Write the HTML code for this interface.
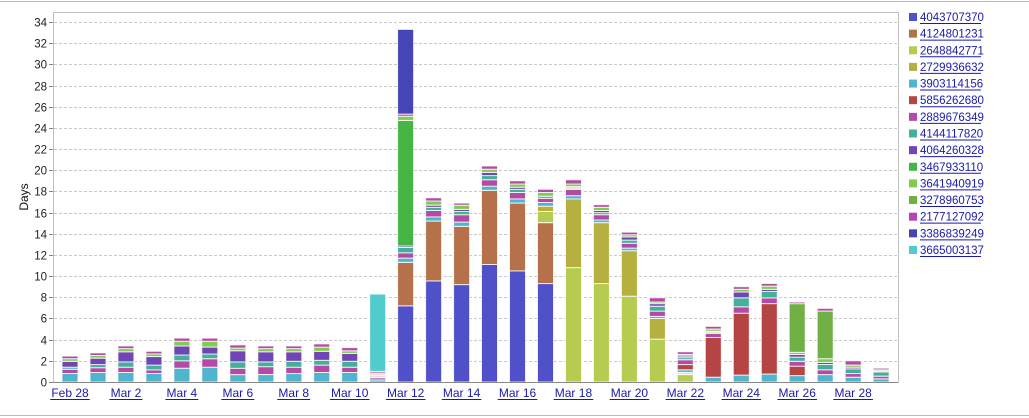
<!DOCTYPE html>
<html><head><meta charset="utf-8"><style>
body{margin:0;background:#fff;width:1029px;height:418px;overflow:hidden}
svg{display:block;font-family:"Liberation Sans",Arial,sans-serif}
</style></head><body>
<svg id="s" width="1029" height="418" xmlns="http://www.w3.org/2000/svg"></svg>
<script>
const C={A:'#5050c8',B:'#b5714a',C:'#b5cc50',D:'#b5b040',E:'#50b4cc',F:'#b54545',G:'#b54aa5',H:'#45b09a',I:'#7045b5',J:'#45b545',K:'#80cc50',L:'#70b045',M:'#b545b5',N:'#4545b5',O:'#50cccc',W:'#dde8c8',X:'#e0c8e0'};
// cumulative tops
const bars=[
[['E',.8],['G',1.2],['E',1.4],['I',1.95],['K',2.2],['G',2.45]],
[['E',.9],['G',1.35],['H',1.65],['I',2.25],['K',2.5],['G',2.75]],
[['E',.9],['G',1.4],['H',1.9],['I',2.85],['K',3.15],['G',3.4]],
[['E',.8],['G',1.15],['H',1.6],['I',2.4],['K',2.65],['G',2.9]],
[['E',1.3],['G',2.0],['H',2.55],['I',3.4],['K',3.85],['G',4.15]],
[['E',1.4],['G',2.2],['H',2.65],['I',3.3],['K',3.85],['G',4.15]],
[['E',.7],['G',1.3],['H',1.9],['I',2.95],['K',3.2],['G',3.5]],
[['E',.7],['G',1.45],['H',1.9],['I',2.85],['K',3.15],['G',3.4]],
[['E',.8],['G',1.4],['H',1.95],['I',2.85],['K',3.15],['G',3.4]],
[['E',.9],['G',1.6],['H',2.05],['I',2.9],['K',3.3],['G',3.6]],
[['E',.9],['G',1.4],['H',1.95],['I',2.7],['K',2.95],['G',3.25]],
[['E',.2],['M',.4],['W',.65],['X',.85],['G',1.0],['O',8.3]],
[['A',7.2],['B',11.3],['E',11.7],['G',12.2],['H',12.7],['I',12.85],['J',24.7],['K',25.1],['G',25.3],['N',33.3]],
[['A',9.55],['B',15.2],['E',15.6],['G',16.2],['H',16.5],['I',16.7],['K',17.1],['G',17.4]],
[['A',9.2],['B',14.7],['E',15.1],['G',15.8],['H',16.1],['I',16.3],['K',16.7],['G',16.9]],
[['A',11.1],['B',18.1],['E',18.5],['G',19.1],['H',19.5],['I',19.8],['K',20.1],['G',20.4]],
[['A',10.5],['B',16.9],['E',17.3],['G',17.9],['H',18.2],['I',18.4],['K',18.7],['G',19.0]],
[['A',9.3],['B',15.05],['C',16.1],['D',16.6],['E',16.95],['G',17.35],['H',17.55],['K',17.9],['G',18.2]],
[['D',10.8],['D',17.3],['E',17.6],['G',18.2],['W',18.45],['K',18.7],['G',19.1]],
[['C',9.3],['D',15.05],['E',15.3],['G',15.8],['H',16.0],['I',16.2],['K',16.5],['G',16.75]],
[['C',8.1],['D',12.4],['E',12.65],['G',13.1],['H',13.4],['I',13.7],['K',13.9],['G',14.15]],
[['C',4.05],['D',6.0],['E',6.2],['G',6.7],['H',7.15],['I',7.4],['K',7.55],['G',7.95]],
[['C',.7],['W',.9],['E',1.15],['F',1.65],['G',2.1],['H',2.3],['I',2.45],['K',2.6],['G',2.85]],
[['E',.45],['F',4.2],['G',4.6],['W',4.8],['K',5.0],['G',5.25]],
[['E',.65],['F',6.5],['G',7.1],['H',7.95],['I',8.5],['K',8.75],['G',9.0]],
[['E',.75],['F',7.4],['G',7.95],['H',8.55],['I',8.75],['K',9.05],['G',9.3]],
[['E',.6],['F',1.5],['G',1.95],['H',2.35],['I',2.6],['K',2.8],['L',7.4],['G',7.55]],
[['E',.7],['G',1.15],['H',1.65],['I',1.85],['K',2.2],['L',6.7],['G',6.95]],
[['E',.45],['G',.8],['H',1.25],['I',1.4],['K',1.6],['G',2.0]],
[['E',.3],['G',.55],['H',.95],['W',1.15],['G',1.3]]];
bars[18][0][0]='C';
const Y=v=>382-v*10.588;
let h='';
h+='<line x1="0" y1="1.5" x2="1029" y2="1.5" stroke="#bbb"/><line x1="0" y1="415.5" x2="1029" y2="415.5" stroke="#bbb"/>';
h+='<rect x="53.5" y="12.5" width="845" height="370" fill="none" stroke="#c0c0c0"/>';
for(let v=0;v<=34;v+=2){const y=Math.round(Y(v))+.5;
 if(v>0)h+=`<line x1="54" y1="${y}" x2="898" y2="${y}" stroke="#c8c8c8" stroke-dasharray="3,2"/>`;
 h+=`<line x1="49" y1="${y}" x2="53" y2="${y}" stroke="#888"/><text x="47" y="${y+4}" font-size="11.5" text-anchor="end" fill="#222">${v}</text>`;}
h+='<text transform="translate(28,197) rotate(-90)" font-size="12" text-anchor="middle" fill="#111">Days</text>';
bars.forEach((b,i)=>{const x=62+i*27.97;let prev=0;
 b.forEach(([c,t])=>{const y1=Y(t),y0=Y(prev);h+=`<rect x="${x.toFixed(1)}" y="${y1.toFixed(1)}" width="16" height="${(y0-y1).toFixed(1)}" fill="${C[c]}" stroke="#fff" stroke-opacity=".8" stroke-width="1"/>`;prev=t;});});
h+='<line x1="53" y1="382.5" x2="898" y2="382.5" stroke="#888"/>';
const labs=['Feb 28','Mar 2','Mar 4','Mar 6','Mar 8','Mar 10','Mar 12','Mar 14','Mar 16','Mar 18','Mar 20','Mar 22','Mar 24','Mar 26','Mar 28'];
labs.forEach((l,i)=>{const cx=70+i*2*27.97;const w=l.length*6.6;
 h+=`<text x="${cx}" y="397" font-size="12" text-anchor="middle" fill="#1a1aaa">${l}</text><line x1="${cx-w/2}" y1="399.5" x2="${cx+w/2}" y2="399.5" stroke="#1a1aaa"/>`;});
const leg=[['A','4043707370'],['B','4124801231'],['C','2648842771'],['D','2729936632'],['E','3903114156'],['F','5856262680'],['G','2889676349'],['H','4144117820'],['I','4064260328'],['J','3467933110'],['K','3641940919'],['L','3278960753'],['M','2177127092'],['N','3386839249'],['O','3665003137']];
leg.forEach(([c,t],i)=>{const y=17+i*16.64;
 h+=`<rect x="909" y="${y-4}" width="8" height="8" fill="${C[c]}"/><text x="920" y="${y+4}" font-size="11.5" fill="#1a1aaa">${t}</text><line x1="920" y1="${y+6.5}" x2="981" y2="${y+6.5}" stroke="#1a1aaa"/>`;});
document.getElementById('s').innerHTML=h;
</script>
</body></html>
